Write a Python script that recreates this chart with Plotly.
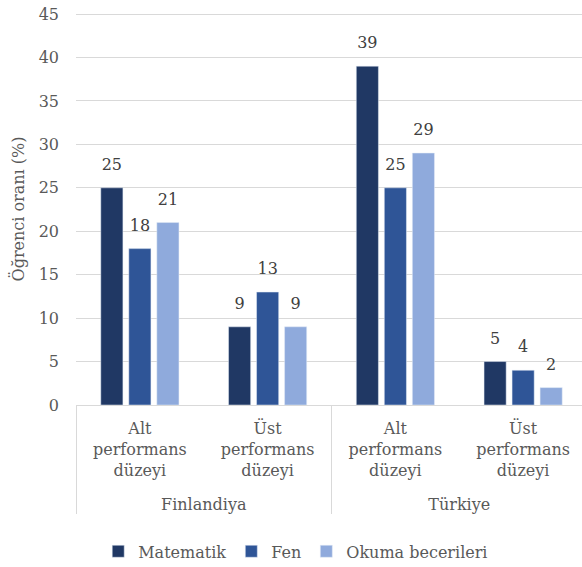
import plotly.graph_objects as go

countries = ["Finlandiya", "Finlandiya", "Türkiye", "Türkiye"]
levels = ["Alt<br>performans<br>düzeyi<br> ", "Üst<br>performans<br>düzeyi<br> ",
          "Alt<br>performans<br>düzeyi<br>  ", "Üst<br>performans<br>düzeyi<br>  "]
series_names = ["Matematik", "Fen", "Okuma becerileri"]
matematik = [25, 9, 39, 5]
fen = [18, 13, 25, 4]
okuma = [21, 9, 29, 2]
colors = ["#203864", "#2F5597", "#8FAADC"]

FONT = "DejaVu Serif, serif"
fig = go.Figure()
for name, vals, c in zip(series_names, [matematik, fen, okuma], colors):
    fig.add_trace(go.Bar(
        x=[countries, levels], y=vals, name=name, marker_color=c,
        text=vals, textposition="outside", cliponaxis=False,
        texttemplate="<span style='font-size:16px'>%{y}</span><br> ",
        textfont=dict(size=10, color="#404040", family=FONT),
    ))

# the reference is cropped on its right edge: the figure is a bit wider than the window
fig.update_layout(
    width=590, height=567,
    margin=dict(l=76, r=3, t=13, b=162, autoexpand=False),
    plot_bgcolor="white", paper_bgcolor="white",
    barmode="group", bargap=0.342, bargroupgap=0.21,
    font=dict(family=FONT, size=16, color="#595959"),
    legend=dict(orientation="h", x=0.430, xanchor="center", y=-0.33, yanchor="top",
                font=dict(size=16, color="#595959"), itemwidth=30,
                traceorder="normal"),
    yaxis=dict(range=[0, 45.12], tickvals=list(range(0, 50, 5)), showgrid=True,
               gridcolor="#d9d9d9", gridwidth=1, zeroline=False, automargin=False,
               title=dict(text="Öğrenci oranı (%)", font=dict(size=16, color="#595959"), standoff=10),
               tickfont=dict(size=16, color="#595959"), ticks="", ticklabelstandoff=16),
    xaxis=dict(showline=True, linecolor="#d9d9d9", linewidth=1, automargin=False,
               dividercolor="#d9d9d9", dividerwidth=1, showdividers=True,
               ticklabelstandoff=9,
               tickfont=dict(size=16, color="#595959")),
)
fig.write_html("out.html", config={"displayModeBar": False},
               post_script="document.body.style.margin='0';")
